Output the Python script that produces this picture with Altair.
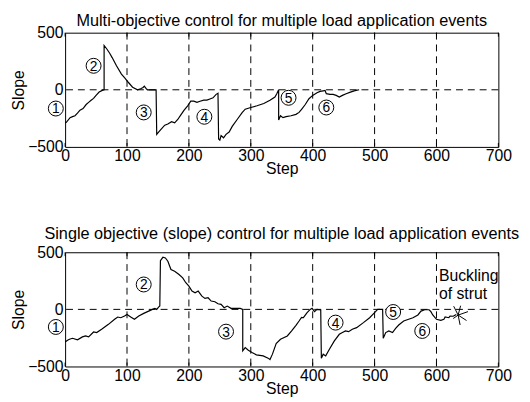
import altair as alt
import pandas as pd

# ---------------- data ----------------
top_step = [0, 2, 8, 12, 16, 20, 24, 29, 34, 38, 42, 46, 50, 55, 60, 63, 63, 68, 72, 76, 83, 91, 97, 102,
            109, 117, 122, 126, 128, 131, 133, 147, 148, 151, 156, 161, 166, 172, 177, 182, 187, 192, 198,
            203, 208, 213, 218, 224, 229, 234, 239, 244, 247, 248, 250, 252, 256, 260, 265, 270, 278, 286,
            291, 300, 310, 321, 331, 339, 342, 345, 345, 348, 352, 357, 365, 373, 378, 383, 388, 394, 400,
            407, 412, 417, 420, 422, 428, 433, 438, 443, 448, 454, 461, 467, 475]
top_slope = [-290, -285, -244, -235, -227, -205, -178, -164, -129, -110, -92, -75, -49, -20, -5, 0, 388, 353,
             320, 282, 210, 138, 100, 66, 23, 0, 9, 20, 32, 10, 0, 0, -390, -370, -340, -310, -300, -280,
             -290, -260, -220, -180, -140, -100, -100, -110, -100, -90, -90, -80, -70, -40, -30, -430, -440,
             -400, -420, -390, -370, -320, -260, -200, -170, -155, -140, -120, -92, -63, -34, 0, -264, -227,
             -244, -235, -227, -215, -198, -164, -129, -78, -49, -26, -14, -9, -6, -34, -40, -40, -49, -63,
             -49, -34, -20, -9, 0]

bot_step = [0, 4, 7, 12, 20, 28, 33, 38, 46, 51, 59, 70, 80, 85, 90, 96, 100, 106, 112, 119, 127, 135, 141,
            145, 148, 151, 153, 154, 158, 162, 166, 171, 177, 184, 190, 195, 200, 205, 210, 215, 221, 226,
            231, 236, 242, 247, 252, 257, 262, 268, 273, 283, 287, 287, 291, 296, 302, 309, 320, 328, 331,
            335, 341, 348, 359, 366, 373, 378, 382, 385, 388, 391, 396, 399, 403, 407, 413, 414, 417, 421,
            427, 435, 443, 448, 453, 458, 464, 471, 482, 492, 500, 505, 513, 514, 518, 523, 529, 534, 539,
            547, 555, 562, 570, 575, 581, 588, 591, 594, 600, 607, 612, 614, 620, 622, 627, 632]
bot_slope = [-285, -270, -262, -253, -267, -241, -233, -241, -198, -203, -174, -131, -87, -67, -73, -58, -44,
             -67, -87, -58, -35, -15, 0, 9, 0, 20, 29, 427, 456, 450, 422, 349, 334, 305, 276, 233, 203, 160,
             145, 160, 116, 96, 102, 73, 67, 49, 44, 15, 29, 9, 9, 9, 0, -363, -334, -358, -378, -398, -407,
             -427, -439, -392, -300, -262, -233, -189, -140, -102, -70, -73, -50, -29, 0, 9, -20, 0, -5, -427,
             -392, -407, -349, -276, -218, -203, -189, -195, -174, -160, -116, -73, -29, 0, 0, -253, -203,
             -189, -203, -166, -137, -102, -87, -73, -49, -15, -3, -3, -20, -49, -87, -96, -87, -67, -73, -58,
             -60, -45]

grid_steps = [100, 200, 300, 400, 500, 600]
tick_steps = [0, 100, 200, 300, 400, 500, 600, 700]
y_ticks = [-500, 0, 500]

event_labels = ["1", "2", "3", "4", "5", "6"]
top_event_step = [-15, 46, 127, 225, 361, 422]
top_event_slope = [-164, 210, -198, -236, -70, -155]
bot_event_step = [-15, 127, 260, 437, 530, 577]
bot_event_slope = [-154, 218, -195, -116, -23, -189]

note_lines = ["Buckling", "of strut"]
note_step = [604, 604]
note_slope = [288, 135]
star_step = [635]
star_slope = [-50]

top_title = "Multi-objective control for multiple load application events"
bot_title = "Single objective (slope) control for multiple load application events"

# ---------------- chart ----------------
FONT = "Liberation Sans"
W, H = 440, 116

xs = alt.Scale(domain=[0, 700], nice=False, zero=False)
ys = alt.Scale(domain=[-500, 500], nice=False, zero=False)
xax = alt.Axis(values=tick_steps, title="Step", labelPadding=1, titlePadding=-3, labelFlush=False,
               labelOverlap=False)
yax = alt.Axis(values=y_ticks, title="Slope", labelPadding=2, titlePadding=1, labelOverlap=False)

STAR = "M0,0L-0.45,-0.9M0,0L0.25,-0.95M0,0L1,-0.35M0,0L0.85,0.55M0,0L0.2,1M0,0L-0.5,0.35"


def panel(steps, slopes, ev_step, ev_slope, title, title_offset, with_note=False):
    df = pd.DataFrame({"step": steps, "slope": slopes, "i": list(range(len(steps)))})
    X = alt.X("step:Q", scale=xs, axis=xax)
    Y = alt.Y("slope:Q", scale=ys, axis=yax)

    vgrid = alt.Chart(pd.DataFrame({"step": grid_steps})).mark_rule(
        color="black", strokeWidth=1, strokeDash=[7, 5]).encode(x=X)
    hgrid = alt.Chart(pd.DataFrame({"slope": [0]})).mark_rule(
        color="black", strokeWidth=1, strokeDash=[7, 5]).encode(y=Y)
    tdf = pd.DataFrame({"step": tick_steps})
    ticks_b = alt.Chart(tdf).mark_rule(color="black", strokeWidth=1).encode(
        x=X, y=alt.value(H), y2=alt.value(H - 4))
    ticks_t = alt.Chart(tdf).mark_rule(color="black", strokeWidth=1).encode(
        x=X, y=alt.value(0), y2=alt.value(4))
    line = alt.Chart(df).mark_line(color="black", strokeWidth=1.2, clip=True).encode(
        x=X, y=Y, order="i:Q")
    edf = pd.DataFrame({"step": ev_step, "slope": ev_slope, "lab": event_labels})
    circ = alt.Chart(edf).mark_point(shape="circle", size=230, filled=True, fill="white",
                                     stroke="black", strokeWidth=1, opacity=1).encode(x=X, y=Y)
    txt = alt.Chart(edf).mark_text(font=FONT, fontSize=14, color="black", dy=1).encode(
        x=X, y=Y, text="lab:N")
    layers = [vgrid, hgrid, ticks_b, ticks_t, line, circ, txt]
    if with_note:
        ndf = pd.DataFrame({"step": note_step, "slope": note_slope, "t": note_lines})
        note = alt.Chart(ndf).mark_text(font=FONT, fontSize=16, color="black", align="left",
                                        baseline="middle").encode(x=X, y=Y, text="t:N")
        sdf = pd.DataFrame({"step": star_step, "slope": star_slope})
        star = alt.Chart(sdf).mark_point(shape=STAR, size=400, filled=False, stroke="black",
                                         strokeWidth=1, opacity=1).encode(x=X, y=Y)
        layers += [note, star]
    return alt.layer(*layers).properties(
        width=W, height=H,
        title=alt.TitleParams(title, font=FONT, fontSize=16.5, fontWeight="normal", color="black",
                              anchor="middle", frame="group", offset=title_offset))


top = panel(top_step, top_slope, top_event_step, top_event_slope, top_title, -5)
bot = panel(bot_step, bot_slope, bot_event_step, bot_event_slope, bot_title, 2, with_note=True)

chart = alt.vconcat(top, bot, spacing=49).properties(
    padding={"left": 2, "top": 2, "right": 2, "bottom": 2}
).configure_view(stroke="black", strokeWidth=1).configure_axis(
    labelFont=FONT, labelFontSize=16, labelColor="black",
    titleFont=FONT, titleFontSize=16, titleFontWeight="normal", titleColor="black",
    domain=False, ticks=False, grid=False
)

chart.save("out.html", embed_options={"renderer": "svg", "actions": False})
